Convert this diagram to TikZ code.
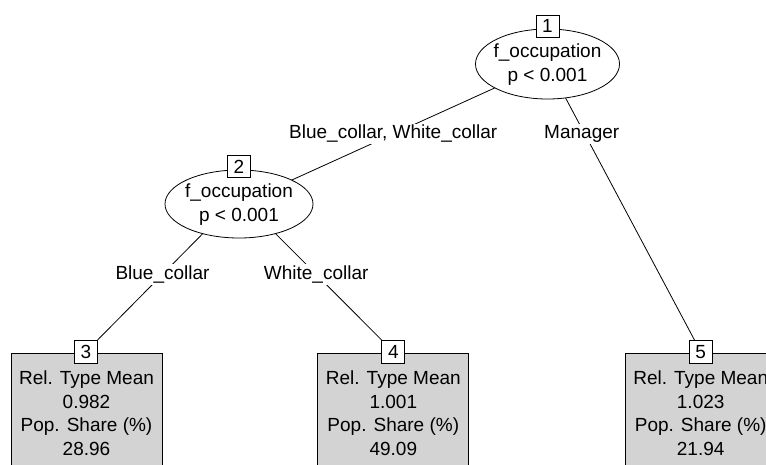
\documentclass[tikz,border=0pt]{standalone}
\usepackage{fontspec}
\setmainfont{Liberation Sans}
\usetikzlibrary{shapes.geometric,backgrounds}
\definecolor{termgray}{RGB}{211,211,211}
\begin{document}
\begin{tikzpicture}[x=1pt,y=-1pt,
  every node/.style={font=\fontsize{19}{23.5}\selectfont},
  inner/.style={draw, ellipse, line width=0.8pt, fill=white, minimum width=144pt, minimum height=70pt, inner sep=0pt},
  idbox/.style={draw, rectangle, fill=white, line width=0.8pt, minimum width=23pt, minimum height=22pt, inner sep=0pt},
  term/.style={draw, rectangle, fill=termgray, line width=0.8pt, minimum width=151pt, minimum height=130pt, anchor=north, inner sep=0pt},
  txt/.style={align=center, inner sep=0pt},
  edgelab/.style={fill=white, inner sep=1.5pt},
  conn/.style={line width=0.8pt}]
\useasboundingbox (0,0) rectangle (766,464);
\clip (0,0) rectangle (766,464);
% inner nodes
\node[inner] (n1) at (547.5,64) {};
\node[txt] (n1t) at (547.5,64.5) {f\_occupation\\p < 0.001};
\node[idbox] (n1id) at (547.5,26) {1};
\node[inner, minimum width=148pt, minimum height=68pt] (n2) at (239,204) {};
\node[txt] (n2t) at (239,204.5) {f\_occupation\\p < 0.001};
\node[idbox] (n2id) at (239,166.5) {2};
% terminal nodes
\node[term] (t3) at (86.5,352.7) {};
\node[txt] (t3t) at (86.5,413) {Rel. Type Mean\\0.982\\Pop. Share (\%)\\28.96};
\node[idbox, minimum height=23pt] (t3id) at (86,351.7) {3};
\node[term] (t4) at (393.3,352.7) {};
\node[txt] (t4t) at (393.3,413) {Rel. Type Mean\\1.001\\Pop. Share (\%)\\49.09};
\node[idbox, minimum height=23pt] (t4id) at (393.3,351.7) {4};
\node[term] (t5) at (700.7,352.7) {};
\node[txt] (t5t) at (700.7,413) {Rel. Type Mean\\1.023\\Pop. Share (\%)\\21.94};
\node[idbox, minimum height=23pt] (t5id) at (700.7,351.7) {5};
% edges
\begin{scope}[on background layer]
\draw[conn] (n1.center) -- node[edgelab,pos=0.5] (l12) {Blue\_collar, White\_collar} (n2.center);
\draw[conn] (n1.center) -- node[edgelab,pos=0.243,xshift=-3pt] (l15) {Manager} (t5id.center);
\draw[conn] ([yshift=7pt]n2.center) -- node[edgelab,pos=0.5] (l23) {Blue\_collar} (t3id.center);
\draw[conn] ([yshift=7pt]n2.center) -- node[edgelab,pos=0.5] (l24) {White\_collar} (t4id.center);
\end{scope}
\end{tikzpicture}
\end{document}
